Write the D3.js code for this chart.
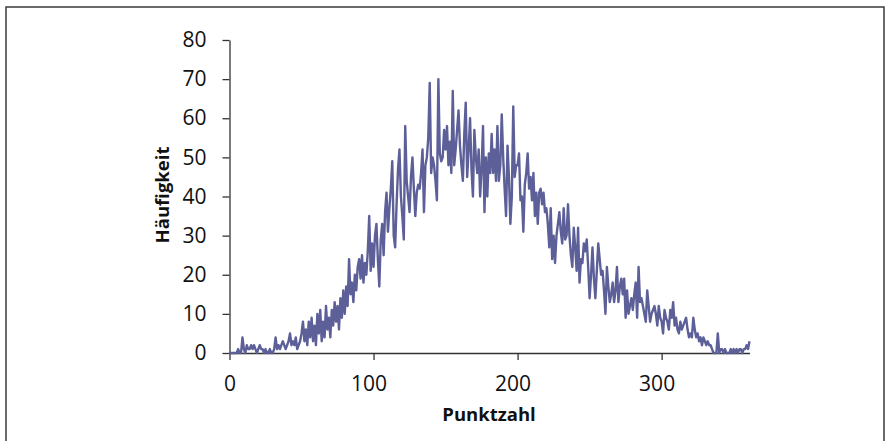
<!DOCTYPE html>
<html><head><meta charset="utf-8">
<script src="https://cdn.jsdelivr.net/npm/d3@7"></script>
<style>body{margin:0;background:#fff}svg{display:block}</style>
</head><body>
<script>
const punktzahl = d3.range(0, 362);
const haeufigkeit = [
0,0,0,0,0,0,1,0,0,4,
1,0,2,1,1,2,1,2,1,0,
1,2,1,1,0,1,0,0,1,0,
0,1,4,1,2,1,2,3,2,1,
2,3,5,2,3,2,4,1,2,3,
5,8,3,6,2,8,4,9,3,7,
2,10,5,11,3,8,4,12,6,9,
4,11,7,13,8,12,6,14,9,16,
10,17,12,24,15,18,13,20,16,22,
24,19,25,18,23,20,26,35,21,28,
22,30,33,24,17,29,33,25,36,41,
31,37,42,49,30,27,38,47,52,40,
35,29,58,44,40,36,45,50,42,35,
41,43,42,46,52,36,48,50,55,69,
46,50,48,44,39,70,51,49,50,57,
52,58,48,54,46,67,48,52,57,62,
53,48,44,56,64,45,52,60,47,40,
57,50,46,52,40,47,58,36,50,40,
51,46,56,46,52,44,58,44,48,61,
50,42,35,53,45,33,40,63,45,48,
48,51,39,40,31,43,46,51,42,45,
39,46,35,41,33,41,42,38,41,36,
37,33,27,37,24,30,23,30,33,36,
31,28,37,29,30,38,30,25,22,32,
27,21,32,18,24,23,28,26,29,22,
14,20,27,19,14,21,28,24,20,21,
16,10,22,17,13,15,18,13,16,22,
13,17,19,15,19,9,16,10,12,14,
11,15,18,9,22,13,14,12,10,8,
16,12,8,10,11,12,10,7,12,9,
8,5,11,9,8,6,11,9,13,7,
9,6,5,8,6,7,8,9,6,4,
5,4,9,6,4,5,3,4,2,4,
3,2,3,2,2,1,0,0,0,5,
0,1,1,0,1,0,0,0,1,0,
1,0,1,0,1,1,0,1,1,2,
1,3
];
const xTicks = [0, 100, 200, 300];
const yTicks = [0, 10, 20, 30, 40, 50, 60, 70, 80];
const xTitle = "Punktzahl";
const yTitle = "Häufigkeit";

const W = 889, H = 441;
const svg = d3.select("body").append("svg").attr("width", W).attr("height", H);
svg.append("rect").attr("x", 6).attr("y", 7).attr("width", 878).attr("height", 440)
  .attr("fill", "none").attr("stroke", "#3a3a3a").attr("stroke-width", 1.5);

const x = d3.scaleLinear().domain([0, 361]).range([229.5, 749.5]);
const y = d3.scaleLinear().domain([0, 80]).range([353, 40]);
const font = "'Open Sans', Carlito, sans-serif";

const yAx = svg.append("g").attr("transform", "translate(229.5,0)")
  .call(d3.axisLeft(y).tickValues(yTicks).tickSize(7).tickSizeOuter(0).tickPadding(16));
const xAx = svg.append("g").attr("transform", "translate(0,353)")
  .call(d3.axisBottom(x).tickValues(xTicks).tickSize(7).tickSizeOuter(0).tickPadding(16));
[yAx, xAx].forEach(g => {
  g.select(".domain").attr("stroke", "#333").attr("stroke-width", 1.3);
  g.selectAll(".tick line").attr("stroke", "#333").attr("stroke-width", 1.3);
  g.selectAll("text").attr("font-family", font).attr("font-size", 21).attr("fill", "#111");
});
xAx.selectAll(".tick text").attr("dx", d => d === 0 ? 0 : -5);

svg.append("path").datum(haeufigkeit)
  .attr("fill", "none").attr("stroke", "#5d5f98").attr("stroke-width", 2.4)
  .attr("stroke-linejoin", "round")
  .attr("d", d3.line().x((d, i) => x(punktzahl[i])).y(d => y(d)));

svg.append("text").attr("x", 489).attr("y", 421).attr("text-anchor", "middle")
  .attr("font-family", font).attr("font-weight", "bold").attr("font-size", 18.5).attr("fill", "#111")
  .text(xTitle);
svg.append("text").attr("transform", "translate(169,195) rotate(-90)").attr("text-anchor", "middle")
  .attr("font-family", font).attr("font-weight", "bold").attr("font-size", 18.5).attr("fill", "#111")
  .text(yTitle);
</script>
</body></html>
